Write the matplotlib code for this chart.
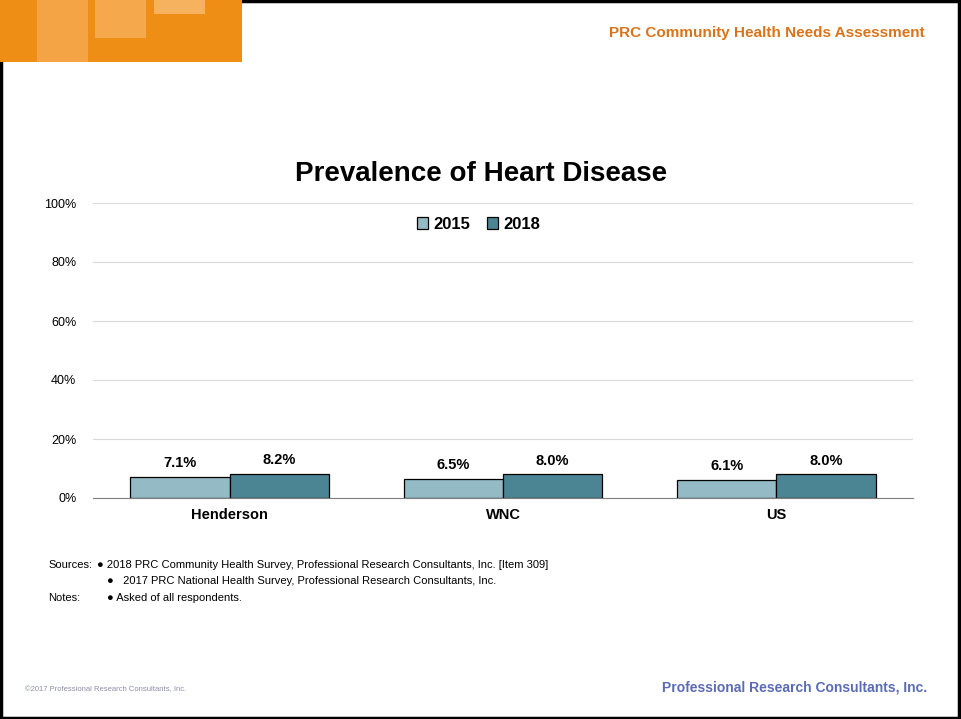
import numpy as np
import matplotlib
matplotlib.use("Agg")
import matplotlib.pyplot as plt
from matplotlib.patches import Rectangle

plt.rcParams['font.family'] = ['Liberation Sans', 'DejaVu Sans']

# data
areas = ["Henderson", "WNC", "US"]
years = ["2015", "2018"]
vals_2015 = [7.1, 6.5, 6.1]
vals_2018 = [8.2, 8.0, 8.0]
yticks = [0, 20, 40, 60, 80, 100]

col_2015 = "#93BAC5"
col_2018 = "#4B8593"

fig = plt.figure(figsize=(9.61, 7.19), dpi=100)

# page border
fig.add_artist(Rectangle((0.001, 0.001), 0.997, 0.997, transform=fig.transFigure,
                         fill=False, edgecolor="black", linewidth=2.5))

# orange header block
W, H = 961, 719
def px_rect(x0, y0, x1, y1, color):
    fig.add_artist(Rectangle((x0 / W, 1 - y1 / H), (x1 - x0) / W, (y1 - y0) / H,
                             transform=fig.transFigure, color=color, linewidth=0))
px_rect(0, 0, 242, 62, "#EE8E14")
px_rect(37, 0, 88, 62, "#F4A445")
px_rect(95, 0, 146, 38, "#F5A94C")
px_rect(154, 0, 205, 14, "#F6B25E")

fig.text(925 / W, 1 - 33 / H, "PRC Community Health Needs Assessment", ha="right", va="center",
         fontsize=11, fontweight="bold", color="#D9741A")

ax = fig.add_axes([93 / W, 1 - 498 / H, 820 / W, 295 / H])
x = np.arange(len(areas))
bw = 0.363
b1 = ax.bar(x - bw / 2, vals_2015, bw, color=col_2015, edgecolor="black", linewidth=0.9, label=years[0], zorder=3)
b2 = ax.bar(x + bw / 2, vals_2018, bw, color=col_2018, edgecolor="black", linewidth=0.9, label=years[1], zorder=3)

for bars, vals in ((b1, vals_2015), (b2, vals_2018)):
    for r, v in zip(bars, vals):
        ax.text(r.get_x() + r.get_width() / 2, v + 2.3, f"{v:.1f}%", ha="center", va="bottom",
                fontsize=10.5, fontweight="bold")

ax.set_xlim(-0.5, len(areas) - 0.5)
ax.set_ylim(0, 100)
ax.set_yticks(yticks)
ax.set_yticklabels([f"{t}%" for t in yticks], fontsize=9)
ax.set_xticks(x)
ax.set_xticklabels(areas, fontsize=10.5, fontweight="bold")
ax.tick_params(axis="both", length=0, pad=7)
ax.tick_params(axis="y", pad=12)
ax.grid(axis="y", color="#D9D9D9", linewidth=0.8, zorder=0)
for s in ("top", "right", "left"):
    ax.spines[s].set_visible(False)
ax.spines["bottom"].set_color("#7F7F7F")
ax.spines["bottom"].set_zorder(4)

leg = ax.legend(loc="upper center", bbox_to_anchor=(0.47, 1.005), ncol=2, frameon=False,
                prop={"weight": "bold", "size": 12}, handlelength=0.7,
                handleheight=0.7, handletextpad=0.3, columnspacing=1.0)

fig.text(481 / W, 1 - 174 / H, "Prevalence of Heart Disease", ha="center", va="center",
         fontsize=20, fontweight="bold")

# sources / notes
fs = 8
fig.text(48 / W, 1 - 565 / H, "Sources:", fontsize=fs, va="center")
fig.text(97 / W, 1 - 565 / H, "\u25cf 2018 PRC Community Health Survey, Professional Research Consultants, Inc. [Item 309]",
         fontsize=fs, va="center")
fig.text(107 / W, 1 - 581 / H, "\u25cf   2017 PRC National Health Survey, Professional Research Consultants, Inc.",
         fontsize=fs, va="center")
fig.text(48 / W, 1 - 598 / H, "Notes:", fontsize=fs, va="center")
fig.text(107 / W, 1 - 598 / H, "\u25cf Asked of all respondents.", fontsize=fs, va="center")

# footer
fig.text(25 / W, 1 - 690 / H, "\u00a92017 Professional Research Consultants, Inc.", fontsize=5.5,
         color="#8A8FA8", va="center")
fig.text(927 / W, 1 - 688 / H, "Professional Research Consultants, Inc.", ha="right", va="center",
         fontsize=10, fontweight="bold", color="#5B6BB5")

fig.savefig("out.png", dpi=100)
